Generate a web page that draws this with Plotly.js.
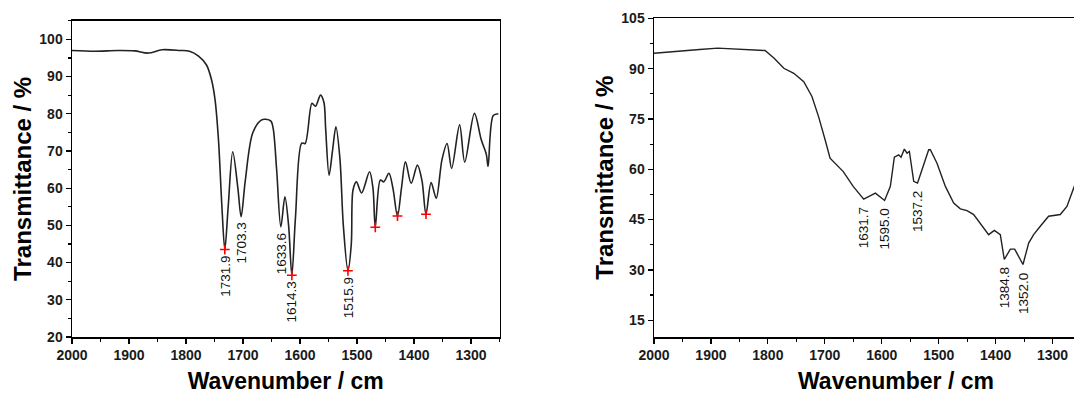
<!DOCTYPE html>
<html>
<head>
<meta charset="utf-8">
<script src="https://cdn.plot.ly/plotly-3.0.1.min.js"></script>
<style>
html,body{margin:0;padding:0;overflow:hidden;background:#fff;}
#chart{width:1150px;height:396px;}
</style>
</head>
<body>
<div id="chart"></div>
<script>
// ---- Left spectrum (wavenumber, transmittance %) ----
const leftWN = [2000,1960,1920,1890,1866,1842,1810,1794,1778,1764,1755,1749,1743,1737,1731.9,1726,1718,1709,1703.3,1696,1683,1668,1660,1651,1647,1641,1633.6,1626.5,1620,1614.3,1608,1597,1591,1579,1573,1564,1558,1555,1549,1543,1537,1530,1524,1515.9,1510,1507,1501,1492,1478,1472,1467.9,1459,1453,1444,1437,1429,1422,1415,1405,1394,1386,1379,1370,1361,1351,1342,1334,1320,1311,1294,1282,1273,1270,1261,1252];
const leftT  = [97.0,96.8,97.0,96.9,96.3,97.2,97.0,96.8,95.5,93.1,89.0,83.7,72.9,55.0,43.5,55.0,69.8,60.0,52.3,62.0,74.8,78.3,78.5,78.0,76.0,65.0,49.6,57.7,50.0,36.6,52.0,72.1,72.0,82.8,82.0,85.0,83.0,76.0,63.5,70.0,76.5,68.0,50.0,37.8,45.0,59.5,61.7,58.7,64.4,60.0,49.5,62.2,61.7,64.0,60.0,52.5,60.0,67.1,61.3,66.2,62.0,53.0,61.5,57.3,67.6,72.0,65.3,77.0,67.0,80.1,73.0,69.0,65.8,79.5,80.0];
const leftPeakWN = [1731.9,1703.3,1633.6,1614.3,1515.9];
const leftPeakT  = [43.5,52.3,49.6,36.6,37.8];
const leftPeakLabels = ["1731.9","1703.3","1633.6","1614.3","1515.9"];
const leftMarkWN = [1731.9,1614.3,1515.9,1467.9,1429,1379];
const leftMarkT  = [43.5,36.6,37.8,49.5,52.5,53.0];

// ---- Right spectrum ----
const rightWN = [2000,1951,1920,1888,1850,1818,1805,1789,1772,1754.5,1737,1722.6,1711,1699.5,1690.8,1667.6,1650.2,1631.7,1611.2,1595.0,1584.9,1577.9,1570.3,1566.2,1560.3,1555.6,1551.5,1543.9,1537.2,1535.2,1517.6,1514.7,1503,1488.3,1473.7,1462,1450.3,1438.6,1424,1412.3,1402.3,1391.8,1384.8,1374.2,1366.6,1352.0,1342,1333.3,1321.6,1307,1286.5,1274.8,1263,1250];
const rightT  = [94.6,95.4,95.7,96.1,95.8,95.6,95.4,93.1,90.1,88.6,86.1,81.7,75.7,68.8,63.3,59.3,54.9,51.1,52.9,50.7,54.9,63.6,64.3,63.6,66.0,64.8,65.3,56.4,55.9,56.9,65.8,65.8,61.8,54.9,49.9,48.2,47.7,46.5,43.0,40.5,41.8,40.5,33.1,36.2,36.2,31.6,38.0,40.5,43.0,46.0,46.5,48.9,54.4,60.0];
const rightPeakWN = [1631.7,1595.0,1537.2,1384.8,1352.0];
const rightPeakT  = [51.1,50.7,55.9,33.1,31.6];
const rightPeakLabels = ["1631.7","1595.0","1537.2","1384.8","1352.0"];

const xTickVals = [2000,1900,1800,1700,1600,1500,1400,1300];
const leftYTicks = [20,30,40,50,60,70,80,90,100];
const rightYTicks = [15,30,45,60,75,90,105];

const W = 1150, H = 396;
const FONT = '"Liberation Sans", Arial, sans-serif';
const tickFont = {family: FONT, size: 14, color: '#1a1a1a', weight: 'bold'};
const xTitleFont = {family: FONT, size: 23, color: '#000', weight: 'bold'};
const yTitleFont = {family: FONT, size: 24, color: '#000', weight: 'bold'};
const labFont = {family: FONT, size: 13.5, color: '#111'};

function px(a,b,total){return [a/total, b/total];}

const baseX = {
  autorange: false, showline: true, linecolor: '#000', linewidth: 1.5, mirror: true,
  ticks: 'outside', ticklen: 5, tickwidth: 1.2, tickcolor: '#000',
  tickvals: xTickVals, tickfont: tickFont, showgrid: false, zeroline: false,
  minor: {dtick: 50, ticks: 'outside', ticklen: 3, tickwidth: 1.2, tickcolor: '#000', showgrid: false},
  title: {text: 'Wavenumber / cm', font: xTitleFont, standoff: 10}
};
const baseY = {
  autorange: false, showline: true, linecolor: '#000', linewidth: 1.5, mirror: true,
  ticks: 'outside', ticklen: 5, tickwidth: 1.2, tickcolor: '#000',
  tickfont: tickFont, showgrid: false, zeroline: false,
  title: {text: 'Transmittance / %', font: yTitleFont, standoff: 1}
};

const traces = [
  {x: leftWN, y: leftT, xaxis: 'x', yaxis: 'y', mode: 'lines', line: {color: '#222', width: 1.6, shape: 'spline', smoothing: 0.9}, hoverinfo: 'skip'},
  {x: leftMarkWN, y: leftMarkT, xaxis: 'x', yaxis: 'y', mode: 'markers', marker: {symbol: 'cross-thin', size: 7, color: 'red', line: {color: 'red', width: 1.6}}, hoverinfo: 'skip'},
  {x: rightWN, y: rightT, xaxis: 'x2', yaxis: 'y2', mode: 'lines', line: {color: '#222', width: 1.4}, hoverinfo: 'skip'}
];

const annotations = [];
leftPeakWN.forEach((w,i) => annotations.push({x: w, y: leftPeakT[i], xref: 'x', yref: 'y', text: leftPeakLabels[i], textangle: -90, showarrow: false, xanchor: 'center', yanchor: 'top', yshift: -4, font: labFont}));
rightPeakWN.forEach((w,i) => annotations.push({x: w, y: rightPeakT[i], xref: 'x2', yref: 'y2', text: rightPeakLabels[i], textangle: -90, showarrow: false, xanchor: 'center', yanchor: 'top', yshift: -6, font: labFont}));

const layout = {
  width: W, height: H, margin: {l: 0, r: 0, t: 0, b: 0},
  paper_bgcolor: '#fff', plot_bgcolor: '#fff', showlegend: false,
  font: {family: FONT},
  xaxis: Object.assign({}, baseX, {domain: px(72, 499.5, W), range: [2000, 1250], anchor: 'y'}),
  yaxis: Object.assign({}, baseY, {domain: [(H-337)/H, (H-20.7)/H], range: [20, 105], tickvals: leftYTicks, anchor: 'x',
    minor: {dtick: 5, tick0: 20, ticks: 'outside', ticklen: 3, tickwidth: 1.2, tickcolor: '#000', showgrid: false}}),
  xaxis2: Object.assign({}, baseX, {domain: px(654, 1138, W), range: [2000, 1150], anchor: 'y2'}),
  yaxis2: Object.assign({}, baseY, {domain: [(H-337)/H, (H-18.3)/H], range: [10, 105], tickvals: rightYTicks, anchor: 'x2',
    minor: {dtick: 7.5, tick0: 15, ticks: 'outside', ticklen: 3, tickwidth: 1.2, tickcolor: '#000', showgrid: false}}),
  annotations: annotations
};

Plotly.newPlot('chart', traces, layout, {staticPlot: true, displayModeBar: false});
</script>
</body>
</html>
